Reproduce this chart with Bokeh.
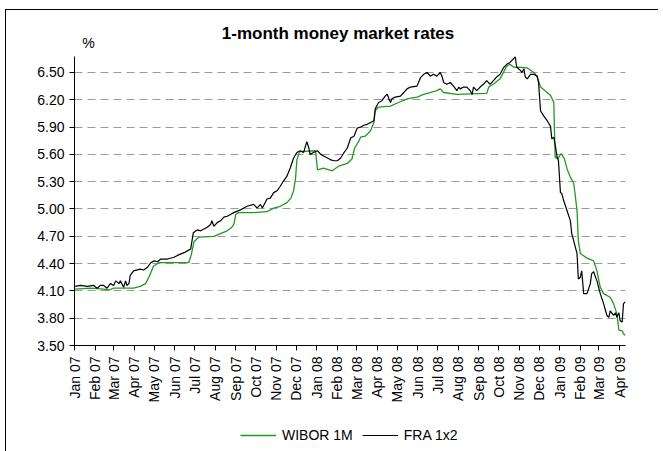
import pandas as pd
from math import pi
from bokeh.plotting import figure
from bokeh.layouts import column
from bokeh.models import (Range1d, FixedTicker, NumeralTickFormatter, MonthsTicker,
                          DatetimeTickFormatter, Legend, LegendItem, Label, ColumnDataSource)
from bokeh.embed import file_html
from bokeh.resources import INLINE

TITLE = "1-month money market rates"
UNIT = "%"
SERIES_NAMES = ["WIBOR 1M", "FRA 1x2"]

WIBOR_DATES = [
    "2007-01-02", "2007-01-25", "2007-02-14", "2007-02-22", "2007-03-01", "2007-03-31",
    "2007-04-10", "2007-04-18", "2007-04-23", "2007-04-30", "2007-05-08", "2007-05-31",
    "2007-06-22", "2007-06-26", "2007-06-30", "2007-07-07", "2007-07-30", "2007-08-06",
    "2007-08-19", "2007-08-26", "2007-08-29", "2007-09-01", "2007-09-05", "2007-09-28",
    "2007-10-18", "2007-10-28", "2007-11-07", "2007-11-17", "2007-11-23", "2007-11-27",
    "2007-11-30", "2007-12-02", "2007-12-06", "2007-12-30", "2008-01-02", "2008-01-11",
    "2008-01-24", "2008-02-03", "2008-02-16", "2008-02-23", "2008-02-27", "2008-03-04",
    "2008-03-07", "2008-03-14", "2008-03-22", "2008-03-27", "2008-03-29", "2008-04-03",
    "2008-04-21", "2008-05-03", "2008-05-16", "2008-05-31", "2008-06-10", "2008-06-30",
    "2008-07-05", "2008-07-10", "2008-07-30", "2008-09-13", "2008-09-16", "2008-09-23",
    "2008-10-03", "2008-10-13", "2008-10-18", "2008-10-23", "2008-11-13", "2008-11-23",
    "2008-11-28", "2008-12-03", "2008-12-13", "2008-12-18", "2008-12-23", "2008-12-25",
    "2008-12-29", "2009-01-03", "2009-01-08", "2009-01-12", "2009-01-17", "2009-01-22",
    "2009-01-24", "2009-01-27", "2009-01-29", "2009-02-01", "2009-02-11", "2009-02-21",
    "2009-02-26", "2009-03-03", "2009-03-08", "2009-03-18", "2009-03-23", "2009-03-28",
    "2009-03-31", "2009-04-05", "2009-04-07", "2009-04-10",
]
WIBOR_1M = [
    4.12, 4.13, 4.12, 4.11, 4.13, 4.13,
    4.15, 4.18, 4.25, 4.37, 4.41, 4.41,
    4.41, 4.50, 4.64, 4.69, 4.70, 4.72,
    4.76, 4.80, 4.83, 4.94, 4.96, 4.96,
    4.97, 5.01, 5.03, 5.07, 5.12, 5.20,
    5.34, 5.54, 5.63, 5.64, 5.43, 5.45,
    5.42, 5.47, 5.50, 5.55, 5.67, 5.74,
    5.79, 5.80, 5.86, 5.95, 6.08, 6.12,
    6.13, 6.17, 6.21, 6.23, 6.26, 6.30,
    6.32, 6.28, 6.26, 6.27, 6.34, 6.37,
    6.43, 6.57, 6.59, 6.56, 6.55, 6.50,
    6.45, 6.34, 6.28, 6.25, 6.17, 5.57,
    5.55, 5.61, 5.55, 5.44, 5.35, 5.28,
    5.17, 4.98, 4.65, 4.51, 4.46, 4.43,
    4.32, 4.14, 4.07, 4.03, 3.96, 3.85,
    3.67, 3.66, 3.63, 3.61,
]

FRA_DATES = [
    "2007-01-02", "2007-01-10", "2007-01-20", "2007-01-30", "2007-02-04", "2007-02-09",
    "2007-02-14", "2007-02-19", "2007-02-24", "2007-03-01", "2007-03-04", "2007-03-09",
    "2007-03-11", "2007-03-16", "2007-03-19", "2007-03-21", "2007-03-24", "2007-03-26",
    "2007-03-31", "2007-04-10", "2007-04-15", "2007-04-21", "2007-04-26", "2007-05-01",
    "2007-05-06", "2007-05-11", "2007-05-21", "2007-05-31", "2007-06-05", "2007-06-15",
    "2007-06-20", "2007-06-25", "2007-06-29", "2007-07-05", "2007-07-10", "2007-07-15",
    "2007-07-20", "2007-07-25", "2007-07-27", "2007-07-30", "2007-08-04", "2007-08-09",
    "2007-08-14", "2007-08-19", "2007-08-24", "2007-08-29", "2007-09-08", "2007-09-13",
    "2007-09-18", "2007-09-28", "2007-10-03", "2007-10-08", "2007-10-11", "2007-10-18",
    "2007-10-23", "2007-10-28", "2007-11-02", "2007-11-07", "2007-11-12", "2007-11-17",
    "2007-11-22", "2007-11-27", "2007-12-02", "2007-12-07", "2007-12-12", "2007-12-17",
    "2007-12-20", "2007-12-22", "2007-12-27", "2008-01-02", "2008-01-07", "2008-01-12",
    "2008-01-17", "2008-01-22", "2008-01-27", "2008-02-01", "2008-02-06", "2008-02-11",
    "2008-02-16", "2008-02-21", "2008-02-26", "2008-03-02", "2008-03-07", "2008-03-12",
    "2008-03-17", "2008-03-22", "2008-03-27", "2008-03-29", "2008-04-03", "2008-04-08",
    "2008-04-13", "2008-04-16", "2008-04-21", "2008-04-23", "2008-04-28", "2008-05-06",
    "2008-05-11", "2008-05-16", "2008-05-21", "2008-05-31", "2008-06-05", "2008-06-10",
    "2008-06-15", "2008-06-20", "2008-06-25", "2008-06-30", "2008-07-05", "2008-07-08",
    "2008-07-10", "2008-07-15", "2008-07-20", "2008-07-25", "2008-07-30", "2008-08-02",
    "2008-08-04", "2008-08-09", "2008-08-14", "2008-08-19", "2008-08-22", "2008-08-24",
    "2008-08-29", "2008-09-03", "2008-09-08", "2008-09-13", "2008-09-18", "2008-09-23",
    "2008-09-28", "2008-10-03", "2008-10-08", "2008-10-13", "2008-10-18", "2008-10-23",
    "2008-10-26", "2008-10-28", "2008-11-03", "2008-11-05", "2008-11-08", "2008-11-10",
    "2008-11-13", "2008-11-18", "2008-11-23", "2008-11-28", "2008-11-30", "2008-12-03",
    "2008-12-08", "2008-12-13", "2008-12-18", "2008-12-20", "2008-12-23", "2008-12-25",
    "2008-12-28", "2008-12-30", "2009-01-02", "2009-01-04", "2009-01-07", "2009-01-12",
    "2009-01-17", "2009-01-19", "2009-01-22", "2009-01-27", "2009-01-29", "2009-02-01",
    "2009-02-03", "2009-02-06", "2009-02-11", "2009-02-16", "2009-02-18", "2009-02-21",
    "2009-02-23", "2009-02-26", "2009-03-03", "2009-03-08", "2009-03-13", "2009-03-16",
    "2009-03-18", "2009-03-23", "2009-03-26", "2009-03-28", "2009-03-31", "2009-04-02",
    "2009-04-05", "2009-04-07", "2009-04-10",
]
FRA_1X2 = [
    4.15, 4.16, 4.15, 4.16, 4.13, 4.16,
    4.16, 4.13, 4.18, 4.16, 4.21, 4.18,
    4.21, 4.14, 4.21, 4.16, 4.18, 4.27,
    4.32, 4.34, 4.33, 4.36, 4.41, 4.43,
    4.42, 4.45, 4.45, 4.47, 4.49, 4.52,
    4.54, 4.56, 4.74, 4.77, 4.76, 4.78,
    4.80, 4.83, 4.87, 4.81, 4.85, 4.87,
    4.91, 4.92, 4.94, 4.96, 4.99, 5.01,
    5.03, 5.05, 5.01, 5.05, 5.01, 5.11,
    5.12, 5.18, 5.20, 5.25, 5.31, 5.36,
    5.45, 5.56, 5.62, 5.64, 5.62, 5.74,
    5.67, 5.60, 5.62, 5.64, 5.60, 5.58,
    5.56, 5.54, 5.53, 5.53, 5.56, 5.62,
    5.67, 5.78, 5.80, 5.89, 5.90, 5.92,
    5.93, 5.95, 5.97, 6.10, 6.17, 6.19,
    6.24, 6.26, 6.17, 6.21, 6.23, 6.24,
    6.28, 6.32, 6.34, 6.35, 6.44, 6.48,
    6.50, 6.46, 6.48, 6.46, 6.50, 6.45,
    6.39, 6.37, 6.39, 6.35, 6.30, 6.34,
    6.32, 6.34, 6.34, 6.30, 6.26, 6.34,
    6.30, 6.34, 6.37, 6.41, 6.37, 6.41,
    6.45, 6.48, 6.55, 6.59, 6.61, 6.65,
    6.67, 6.56, 6.52, 6.50, 6.54, 6.45,
    6.43, 6.48, 6.48, 6.46, 6.39, 6.08,
    6.02, 5.97, 5.91, 5.77, 5.79, 5.71,
    5.57, 5.53, 5.18, 5.17, 5.09, 4.98,
    4.87, 4.73, 4.65, 4.51, 4.23, 4.25,
    4.32, 4.07, 4.07, 4.18, 4.29, 4.31,
    4.27, 4.21, 4.07, 3.96, 3.83, 3.81,
    3.88, 3.83, 3.86, 3.81, 3.86, 3.77,
    3.76, 3.96, 3.98,
]

Y_TICKS = [3.50, 3.80, 4.10, 4.40, 4.70, 5.00, 5.30, 5.60, 5.90, 6.20, 6.50]
Y_TICK_FORMAT = "0.00"
X_TICK_FORMAT = "%b %y"
X_START, X_END = "2007-01-01", "2009-04-10"
Y_START, Y_AXIS_TOP = 3.50, 6.68
Y_VIEW_TOP = 7.148          # room above the axis for the title and the unit mark

FONT = "Liberation Sans"
GREEN = "#1f9a1f"

wibor = ColumnDataSource(dict(x=pd.to_datetime(WIBOR_DATES), y=WIBOR_1M))
fra = ColumnDataSource(dict(x=pd.to_datetime(FRA_DATES), y=FRA_1X2))

p = figure(width=652, height=408, x_axis_type="datetime",
           output_backend="svg", toolbar_location=None,
           x_range=Range1d(pd.Timestamp(X_START), pd.Timestamp(X_END)),
           y_range=Range1d(Y_START, Y_VIEW_TOP),
           min_border_left=68, min_border_right=33, min_border_top=3, min_border_bottom=73)
p.outline_line_color = None
p.background_fill_color = "white"
p.border_fill_color = "white"

g = p.line("x", "y", source=wibor, line_color=GREEN, line_width=1.3)
b = p.line("x", "y", source=fra, line_color="black", line_width=1.2)

# axes
xa = p.xaxis[0]
xa.ticker = MonthsTicker(months=list(range(12)))
xa.formatter = DatetimeTickFormatter(days=X_TICK_FORMAT, months=X_TICK_FORMAT, years=X_TICK_FORMAT)
xa.major_label_orientation = pi / 2
xa.major_tick_out = 5
xa.major_tick_in = 0
xa.minor_tick_line_color = None
xa.axis_line_color = "black"
xa.major_tick_line_color = "black"
xa.major_label_text_font = FONT
xa.major_label_text_font_size = "14px"
xa.major_label_text_color = "black"
xa.major_label_standoff = 6

ya = p.yaxis[0]
ya.bounds = (Y_START, Y_AXIS_TOP)
ya.ticker = FixedTicker(ticks=Y_TICKS)
ya.formatter = NumeralTickFormatter(format=Y_TICK_FORMAT)
ya.major_tick_out = 5
ya.major_tick_in = 0
ya.minor_tick_line_color = None
ya.axis_line_color = "black"
ya.major_tick_line_color = "black"
ya.major_label_text_font = FONT
ya.major_label_text_font_size = "14px"
ya.major_label_text_color = "black"
ya.major_label_standoff = 5

p.xgrid.visible = False
p.ygrid.ticker = FixedTicker(ticks=Y_TICKS)
p.ygrid.grid_line_color = "#9a9a9a"
p.ygrid.grid_line_dash = "8 5"
p.ygrid.grid_line_width = 1

title = Label(x=pd.Timestamp("2008-02-02"), y=6.929, text=TITLE, text_align="center",
              text_baseline="middle", text_font=FONT, text_font_size="17px",
              text_font_style="bold", text_color="black")
p.add_layout(title)
unit = Label(x=pd.Timestamp("2007-01-22"), y=6.819, text=UNIT, text_align="center",
             text_baseline="middle", text_font=FONT, text_font_size="14px", text_color="black")
p.add_layout(unit)

# legend strip under the chart (its frame is aligned with the chart's frame)
lg = figure(width=652, height=33, output_backend="svg", toolbar_location=None,
            x_range=Range1d(0, 1), y_range=Range1d(0, 1),
            x_axis_location=None, y_axis_location=None, min_border=0)
lg.outline_line_color = None
lg.xgrid.visible = False
lg.ygrid.visible = False
# swatch renderers kept outside the visible range; only their legend glyphs show
lg_g = lg.line(x=[-5, -4], y=[-5, -4], line_color=GREEN, line_width=1.6)
lg_b = lg.line(x=[-5, -4], y=[-5, -4], line_color="black", line_width=1.2)
legend = Legend(items=[LegendItem(label=SERIES_NAMES[0], renderers=[lg_g]),
                       LegendItem(label=SERIES_NAMES[1], renderers=[lg_b])],
                orientation="horizontal", location=(166, 8),
                border_line_color=None, background_fill_alpha=0,
                glyph_width=36, glyph_height=16, label_standoff=6, spacing=9,
                padding=0, margin=0,
                label_text_font=FONT, label_text_font_size="14px", label_text_color="black")
lg.add_layout(legend)

root = column(p, lg, spacing=0,
              styles={"margin-left": "5px", "margin-top": "9px",
                      "border-left": "1px solid black", "border-top": "1px solid black"})

open("out.html", "w").write(file_html(root, INLINE))
